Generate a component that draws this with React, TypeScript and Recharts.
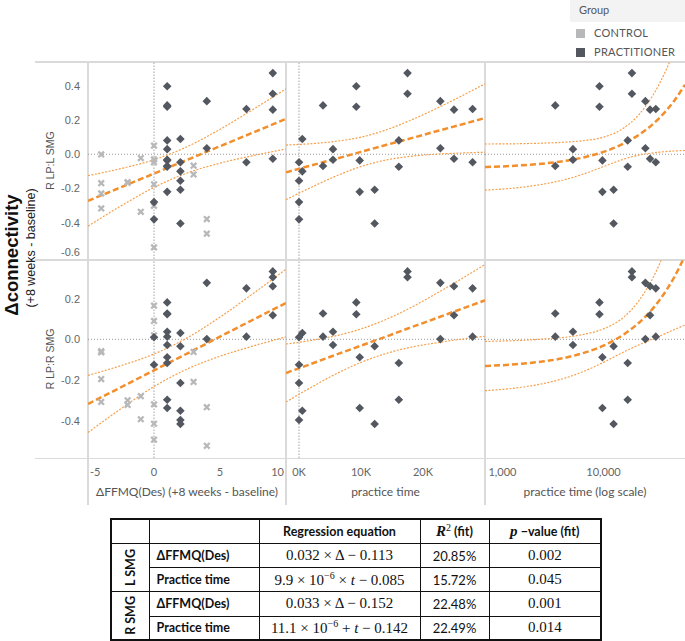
import React from 'react'
import { ComposedChart, Scatter, Line, XAxis, YAxis, ReferenceLine } from 'recharts'

// practitioners, two rows per subject (same ΔFFMQ and practice time)
const PR_FFMQ = [2, 2, 2, 2, 0, 0, 1, 1, 1, 1, 1, 1, 1, 1, 2, 2, 1, 1, 9, 9, 4, 4, 9, 9, 7, 7]
const PR_TIME = [0, 0, 530, 530, 0, 0, 3870, 3870, 5480, 5480, 9240, 9240, 9790, 9790, 12200, 12200, 16100, 16100, 17500, 17500, 22800, 22800, 25000, 25000, 28000, 28000]
const PR_LSMG = [-0.047, -0.155, 0.089, -0.1, -0.28, -0.381, 0.286, -0.069, 0.03, -0.032, 0.398, 0.278, -0.036, -0.22, -0.208, -0.405, 0.081, -0.073, 0.475, 0.354, 0.311, 0.035, 0.261, -0.026, 0.265, -0.047]
const PR_RSMG = [-0.214, -0.396, 0.031, -0.35, 0.01, -0.125, 0.127, 0.013, 0.037, -0.028, 0.181, 0.123, -0.088, -0.337, -0.034, -0.415, -0.116, -0.296, 0.333, 0.305, 0.277, 0.001, 0.26, 0.118, 0.25, 0.013]

// controls
const CT_FFMQ = [-4, -4, -4, -4, -2, -2, -1, -1, 0, 0, 0, 0, 0, 0, 3, 3, 4, 4]
const CT_LSMG = [-0.001, -0.169, -0.229, -0.317, -0.167, -0.163, -0.022, -0.337, 0.05, -0.03, -0.047, -0.176, -0.302, -0.545, -0.067, -0.118, -0.379, -0.465]
const CT_RSMG = [-0.058, -0.064, -0.195, -0.307, -0.299, -0.322, -0.279, -0.392, 0.165, 0.09, 0.02, -0.319, -0.414, -0.492, -0.062, -0.209, -0.333, -0.522]

// trend lines and confidence bands
const FFMQ_GRID = [-5, -2.5, 0, 2.5, 5, 7.5, 10]
const L_FFMQ_FIT = [-0.273, -0.193, -0.113, -0.033, 0.047, 0.127, 0.207]
const L_FFMQ_UP = [-0.125, -0.084, -0.032, 0.044, 0.146, 0.262, 0.383]
const L_FFMQ_LO = [-0.421, -0.302, -0.194, -0.11, -0.052, -0.008, 0.031]
const R_FFMQ_FIT = [-0.317, -0.235, -0.152, -0.07, 0.013, 0.096, 0.178]
const R_FFMQ_UP = [-0.177, -0.129, -0.072, 0.007, 0.109, 0.224, 0.344]
const R_FFMQ_LO = [-0.457, -0.34, -0.232, -0.146, -0.083, -0.033, 0.012]

const TIME_GRID = [-2100, 2000, 6000, 10000, 14000, 18000, 22000, 26000, 30000]
const L_TIME_FIT = [-0.106, -0.065, -0.026, 0.014, 0.054, 0.093, 0.133, 0.172, 0.212]
const L_TIME_UP = [0.054, 0.062, 0.076, 0.1, 0.142, 0.199, 0.265, 0.337, 0.412]
const L_TIME_LO = [-0.266, -0.193, -0.127, -0.072, -0.034, -0.012, 0.0, 0.007, 0.012]
const R_TIME_FIT = [-0.165, -0.12, -0.075, -0.031, 0.013, 0.058, 0.102, 0.147, 0.191]
const R_TIME_UP = [-0.023, -0.005, 0.018, 0.051, 0.097, 0.155, 0.222, 0.293, 0.367]
const R_TIME_LO = [-0.307, -0.235, -0.169, -0.113, -0.07, -0.039, -0.018, 0.0, 0.015]

const LOG_GRID = [971, 2000, 3000, 5000, 7000, 10000, 15000, 20000, 30000, 40000, 49730]
const L_LOG_FIT = [-0.075, -0.065, -0.055, -0.036, -0.016, 0.014, 0.064, 0.113, 0.212, 0.311, 0.407]
const L_LOG_UP = [0.06, 0.062, 0.065, 0.072, 0.081, 0.1, 0.155, 0.231, 0.412, 0.603, 0.79]
const L_LOG_LO = [-0.21, -0.193, -0.176, -0.143, -0.112, -0.072, -0.028, -0.005, 0.012, 0.019, 0.022]
const R_LOG_FIT = [-0.131, -0.12, -0.109, -0.087, -0.064, -0.031, 0.025, 0.08, 0.191, 0.302, 0.41]
const R_LOG_UP = [-0.01, -0.005, 0.001, 0.012, 0.026, 0.051, 0.11, 0.188, 0.367, 0.557, 0.745]
const R_LOG_LO = [-0.252, -0.235, -0.218, -0.185, -0.154, -0.113, -0.061, -0.028, 0.015, 0.047, 0.07]

const FFMQ_TICKS = [-5, 0, 5, 10]
const TIME_TICKS = [0, 10000, 20000]
const LOG_TICKS = [1000, 10000]
const L_TICKS = [-0.6, -0.4, -0.2, 0, 0.2, 0.4]
const R_TICKS = [-0.4, -0.2, 0, 0.2]

const ROW_LABELS = ['ΔFFMQ(Des)', 'Practice time', 'ΔFFMQ(Des)', 'Practice time']
const R2_VALUES = ['20.85%', '15.72%', '22.48%', '22.49%']
const P_VALUES = ['0.002', '0.045', '0.001', '0.014']

const ORANGE = '#f28e2b'
const BAND = '#f6a04d'
const DARK = '#53575f'
const LIGHT = '#b7b8ba'
const BORDER = '#dadada'
const SERIF = '"Liberation Serif", serif'
const SANS = 'Lato, sans-serif'
const ARIAL = '"Liberation Sans", Arial, sans-serif'

type Pt = { x: number; y: number }
const zip = (xs: number[], ys: number[]): Pt[] => xs.map((x, i) => ({ x, y: ys[i] }))

function Diamond(props: any) {
  const { cx, cy } = props
  if (cx == null || cy == null) return null
  const r = 4.3
  return <path d={`M${cx},${cy - r}L${cx + r},${cy}L${cx},${cy + r}L${cx - r},${cy}Z`} fill={DARK} />
}

function XMark(props: any) {
  const { cx, cy } = props
  if (cx == null || cy == null) return null
  const r = 2.8
  return (
    <path
      d={`M${cx - r},${cy - r}L${cx + r},${cy + r}M${cx - r},${cy + r}L${cx + r},${cy - r}`}
      stroke={LIGHT}
      strokeWidth={2.3}
    />
  )
}

type PanelProps = {
  left: number
  top: number
  plotW: number
  plotH: number
  yAxisW?: number
  xAxisH?: number
  xDomain: [number, number]
  yDomain: [number, number]
  xTicks: number[]
  xAnchors?: string[]
  xFormat?: (v: number) => string
  yTicks?: number[]
  log?: boolean
  zeroX?: boolean
  xTitle?: string
  yTitle?: string
  control?: Pt[]
  practitioner: Pt[]
  fit: Pt[]
  up: Pt[]
  lo: Pt[]
}

function Panel(p: PanelProps) {
  const yAxisW = p.yAxisW ?? 0
  const xAxisH = p.xAxisH ?? 0
  const width = yAxisW + p.plotW
  const height = p.plotH + xAxisH

  const xTick = (props: any) => {
    const { x, y, payload, index } = props
    const anchor = p.xAnchors ? p.xAnchors[index] : 'middle'
    const dx = anchor === 'start' ? 2 : anchor === 'end' ? -2 : 0
    return (
      <text x={x + dx} y={y + 18} textAnchor={anchor} fill="#666" fontSize={11} fontFamily={SANS}>
        {p.xFormat ? p.xFormat(payload.value) : String(payload.value)}
      </text>
    )
  }

  const yTick = (props: any) => {
    const { x, y, payload } = props
    const shift = payload.value === -0.6 ? -4.5 : 0
    return (
      <text x={x} y={y + 4 + shift} textAnchor="end" fill="#666" fontSize={11} fontFamily={ARIAL}>
        {payload.value.toFixed(1)}
      </text>
    )
  }

  const yLabel = (props: any) => {
    const vb = props.viewBox
    const cx = vb.x + 15
    const cy = vb.y + vb.height / 2
    return (
      <text
        x={cx}
        y={cy}
        transform={`rotate(-90 ${cx} ${cy})`}
        textAnchor="middle"
        dominantBaseline="central"
        fill="#555"
        fontSize={10.5}
        fontFamily={ARIAL}
      >
        {p.yTitle}
      </text>
    )
  }

  return (
    <div style={{ position: 'absolute', left: p.left, top: p.top }}>
      <ComposedChart width={width} height={height} margin={{ top: 0, right: 0, bottom: 0, left: 0 }}>
        <XAxis
          type="number"
          dataKey="x"
          scale={p.log ? 'log' : 'linear'}
          domain={p.xDomain}
          ticks={p.xTicks}
          interval={0}
          allowDataOverflow
          hide={xAxisH === 0}
          height={xAxisH || 1}
          axisLine={false}
          tickLine={false}
          tickSize={0}
          tickMargin={0}
          tick={xTick}
          label={
            p.xTitle
              ? { value: p.xTitle, position: 'insideBottom', offset: 9, fill: '#555', fontSize: 12, fontFamily: SANS }
              : undefined
          }
        />
        <YAxis
          type="number"
          dataKey="y"
          domain={p.yDomain}
          ticks={p.yTicks}
          interval={0}
          allowDataOverflow
          hide={yAxisW === 0}
          width={yAxisW || 1}
          axisLine={false}
          tickLine={false}
          tickSize={0}
          tickMargin={8}
          tick={yTick}
          label={p.yTitle ? { content: yLabel } : undefined}
        />
        <ReferenceLine y={0} stroke="#9a9a9a" strokeDasharray="1 2" />
        {p.zeroX && <ReferenceLine x={0} stroke="#c2c2c2" strokeWidth={1.5} strokeDasharray="1.5 1.5" />}
        {p.control && <Scatter data={p.control} shape={XMark} isAnimationActive={false} />}
        <Scatter data={p.practitioner} shape={Diamond} isAnimationActive={false} />
        <Line data={p.up} dataKey="y" type="monotone" stroke={BAND} strokeWidth={1.2} strokeDasharray="2 1.5" dot={false} activeDot={false} isAnimationActive={false} />
        <Line data={p.lo} dataKey="y" type="monotone" stroke={BAND} strokeWidth={1.2} strokeDasharray="2 1.5" dot={false} activeDot={false} isAnimationActive={false} />
        <Line data={p.fit} dataKey="y" type="monotone" stroke={ORANGE} strokeWidth={2.5} strokeDasharray="6 3" dot={false} activeDot={false} isAnimationActive={false} />
      </ComposedChart>
    </div>
  )
}

const hLine = (top: number) => (
  <div style={{ position: 'absolute', left: 35, top, width: 650, height: 1.5, background: BORDER }} />
)
const vLine = (left: number) => (
  <div style={{ position: 'absolute', left: left - 0.75, top: 62, width: 1.5, height: 443, background: BORDER }} />
)

function RotatedText({ cx, cy, w, h, style, children }: any) {
  return (
    <div
      style={{
        position: 'absolute',
        left: cx - w / 2,
        top: cy - h / 2,
        width: w,
        height: h,
        lineHeight: `${h}px`,
        textAlign: 'center',
        whiteSpace: 'nowrap',
        transform: 'rotate(-90deg)',
        ...style,
      }}
    >
      {children}
    </div>
  )
}

const EQUATIONS = [
  <>0.032 × Δ − 0.113</>,
  <>9.9 × 10<sup style={{ fontSize: 10 }}>−6</sup> × <i>t</i> − 0.085</>,
  <>0.033 × Δ − 0.152</>,
  <>11.1 × 10<sup style={{ fontSize: 10 }}>−6</sup> + <i>t</i> − 0.142</>,
]

function StatsTable() {
  const cell: React.CSSProperties = { border: '1px solid #111', padding: 0, textAlign: 'center', verticalAlign: 'middle' }
  const bold: React.CSSProperties = { fontFamily: SANS, fontWeight: 700, fontSize: 12.5 }
  const serif: React.CSSProperties = { fontFamily: SERIF, fontSize: 15 }
  const rowH = [24.2, 24.2, 24.2, 24.2]
  return (
    <table
      style={{
        position: 'absolute',
        left: 110,
        top: 518,
        width: 490,
        borderCollapse: 'collapse',
        tableLayout: 'fixed',
        border: '2px solid #111',
        color: '#111',
      }}
    >
      <colgroup>
        <col style={{ width: 38 }} />
        <col style={{ width: 110 }} />
        <col style={{ width: 161 }} />
        <col style={{ width: 69 }} />
        <col style={{ width: 112 }} />
      </colgroup>
      <tbody>
        <tr style={{ height: 24.5 }}>
          <td style={cell} />
          <td style={cell} />
          <td style={{ ...cell, ...bold }}>Regression equation</td>
          <td style={{ ...cell, ...bold }}>
            <span style={{ fontFamily: SERIF, fontStyle: 'italic', fontSize: 15 }}>R</span>
            <sup style={{ fontFamily: SERIF, fontSize: 10, fontWeight: 400 }}>2</sup> (fit)
          </td>
          <td style={{ ...cell, ...bold }}>
            <span style={{ fontFamily: SERIF, fontStyle: 'italic', fontSize: 15 }}>p</span> −value (fit)
          </td>
        </tr>
        {ROW_LABELS.map((label, i) => (
          <tr key={i} style={{ height: rowH[i] }}>
            {i % 2 === 0 && (
              <td rowSpan={2} style={{ ...cell, ...bold, fontSize: 12.5 }}>
                <div style={{ writingMode: 'vertical-rl', transform: 'rotate(180deg)', margin: '0 auto' }}>
                  {i === 0 ? 'L SMG' : 'R SMG'}
                </div>
              </td>
            )}
            <td style={{ ...cell, ...bold, textAlign: 'left', paddingLeft: 7 }}>{label}</td>
            <td style={{ ...cell, ...serif }}>{EQUATIONS[i]}</td>
            <td style={{ ...cell, fontFamily: SANS, fontSize: 13 }}>{R2_VALUES[i]}</td>
            <td style={{ ...cell, ...serif }}>{P_VALUES[i]}</td>
          </tr>
        ))}
      </tbody>
    </table>
  )
}

export default function App() {
  const prL = zip(PR_FFMQ, PR_LSMG)
  const prR = zip(PR_FFMQ, PR_RSMG)
  const ctL = zip(CT_FFMQ, CT_LSMG)
  const ctR = zip(CT_FFMQ, CT_RSMG)
  const prTL = zip(PR_TIME, PR_LSMG)
  const prTR = zip(PR_TIME, PR_RSMG)
  const logL = prTL.filter(d => d.x >= LOG_GRID[0])
  const logR = prTR.filter(d => d.x >= LOG_GRID[0])

  const topDomain: [number, number] = [-0.613, 0.54]
  const botDomain: [number, number] = [-0.582, 0.389]
  const ffmqDomain: [number, number] = [-5, 10]
  const timeDomain: [number, number] = [-2100, 30000]
  const logDomain: [number, number] = [LOG_GRID[0], LOG_GRID[LOG_GRID.length - 1]]
  const kFmt = (v: number) => `${v / 1000}K`
  const logFmt = (v: number) => v.toLocaleString('en-US')

  return (
    <div style={{ position: 'absolute', left: 0, top: 0, width: 685, height: 641, background: '#fff', overflow: 'hidden' }}>
      {/* legend */}
      <div style={{ position: 'absolute', left: 570, top: 0, width: 115, height: 22, background: '#f3f3f3' }} />
      <div style={{ position: 'absolute', left: 579, top: 3, fontFamily: SANS, fontSize: 11, color: '#555' }}>Group</div>
      <div style={{ position: 'absolute', left: 576, top: 29, width: 9, height: 9, background: LIGHT }} />
      <div style={{ position: 'absolute', left: 594, top: 26, fontFamily: SANS, fontSize: 11, color: '#555', letterSpacing: 0.3 }}>CONTROL</div>
      <div style={{ position: 'absolute', left: 576, top: 47.5, width: 9, height: 9.5, background: DARK }} />
      <div style={{ position: 'absolute', left: 594, top: 45, fontFamily: SANS, fontSize: 11, color: '#555', letterSpacing: 0.3 }}>PRACTITIONER</div>

      {/* axis titles */}
      <RotatedText cx={11.5} cy={255} w={150} h={22} style={{ fontFamily: ARIAL, fontWeight: 700, fontSize: 18.5, color: '#111' }}>
        Δconnectivity
      </RotatedText>
      <RotatedText cx={31} cy={248} w={150} h={16} style={{ fontFamily: ARIAL, fontSize: 12.5, color: '#222' }}>
        (+8 weeks - baseline)
      </RotatedText>

      {/* panel frame */}
      {hLine(61.25)}
      {hLine(259.25)}
      {hLine(457.75)}
      {vLine(88)}
      {vLine(286)}
      {vLine(485)}

      <Panel left={35} top={62} plotW={198} plotH={197} yAxisW={53} xDomain={ffmqDomain} yDomain={topDomain}
        xTicks={FFMQ_TICKS} yTicks={L_TICKS} zeroX yTitle="R LP:L SMG" control={ctL} practitioner={prL}
        fit={zip(FFMQ_GRID, L_FFMQ_FIT)} up={zip(FFMQ_GRID, L_FFMQ_UP)} lo={zip(FFMQ_GRID, L_FFMQ_LO)} />
      <Panel left={286} top={62} plotW={199} plotH={197} xDomain={timeDomain} yDomain={topDomain}
        xTicks={TIME_TICKS} zeroX practitioner={prTL}
        fit={zip(TIME_GRID, L_TIME_FIT)} up={zip(TIME_GRID, L_TIME_UP)} lo={zip(TIME_GRID, L_TIME_LO)} />
      <Panel left={485} top={62} plotW={200} plotH={197} xDomain={logDomain} yDomain={topDomain}
        xTicks={LOG_TICKS} log practitioner={logL}
        fit={zip(LOG_GRID, L_LOG_FIT)} up={zip(LOG_GRID, L_LOG_UP)} lo={zip(LOG_GRID, L_LOG_LO)} />

      <Panel left={35} top={260} plotW={198} plotH={198} yAxisW={53} xAxisH={47} xDomain={ffmqDomain} yDomain={botDomain}
        xTicks={FFMQ_TICKS} xAnchors={['start', 'middle', 'middle', 'end']} yTicks={R_TICKS} zeroX
        xTitle="ΔFFMQ(Des) (+8 weeks - baseline)" yTitle="R LP:R SMG" control={ctR} practitioner={prR}
        fit={zip(FFMQ_GRID, R_FFMQ_FIT)} up={zip(FFMQ_GRID, R_FFMQ_UP)} lo={zip(FFMQ_GRID, R_FFMQ_LO)} />
      <Panel left={286} top={260} plotW={199} plotH={198} xAxisH={47} xDomain={timeDomain} yDomain={botDomain}
        xTicks={TIME_TICKS} xFormat={kFmt} zeroX xTitle="practice time" practitioner={prTR}
        fit={zip(TIME_GRID, R_TIME_FIT)} up={zip(TIME_GRID, R_TIME_UP)} lo={zip(TIME_GRID, R_TIME_LO)} />
      <Panel left={485} top={260} plotW={200} plotH={198} xAxisH={47} xDomain={logDomain} yDomain={botDomain}
        xTicks={LOG_TICKS} xAnchors={['start', 'middle']} xFormat={logFmt} log xTitle="practice time (log scale)"
        practitioner={logR}
        fit={zip(LOG_GRID, R_LOG_FIT)} up={zip(LOG_GRID, R_LOG_UP)} lo={zip(LOG_GRID, R_LOG_LO)} />

      <StatsTable />
    </div>
  )
}
